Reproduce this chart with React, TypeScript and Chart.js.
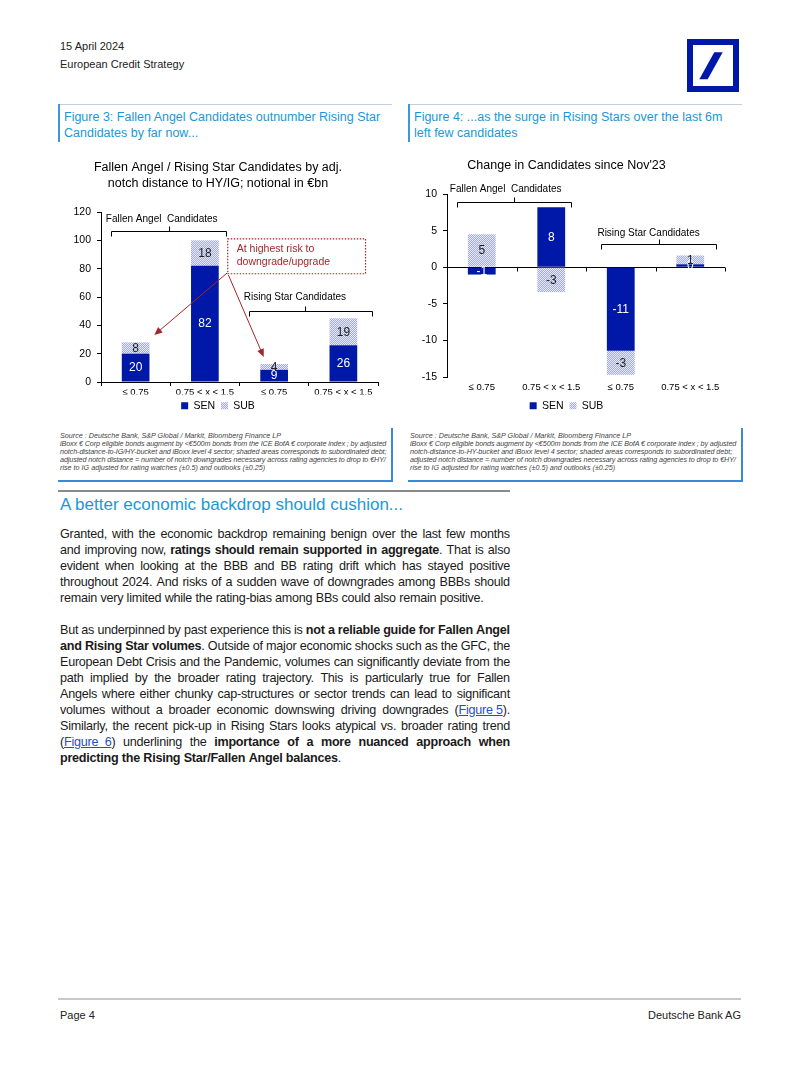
import React, { useEffect, useLayoutEffect, useRef } from 'react';
import { Chart, registerables } from 'chart.js';

Chart.register(...registerables);

const FONT = "'Liberation Sans', Arial, Helvetica, sans-serif";
const DB_BLUE = '#0018a8';
const ACCENT = '#1b97d6';
const RED = '#a3262b';

// ---------- data ----------
const categories = ['≤ 0.75', '0.75 < x < 1.5', '≤ 0.75', '0.75 < x < 1.5'];
const seriesNames = ['SEN', 'SUB'];
const fig3Sen = [20, 82, 8.6, 26];
const fig3Sub = [8, 18, 4.1, 19];
const fig4Sen = [-1, 8.2, -11.4, 0.4];
const fig4Sub = [4.5, -3.4, -3.3, 1.2];
const fig3YRange = [0, 120, 20];
const fig4YRange = [-15, 10, 5];
const fig3Title = ['Fallen Angel / Rising Star Candidates by adj.', 'notch distance to HY/IG; notional in €bn'];
const fig4Title = "Change in Candidates since Nov'23";

// annotation anchors (category index / value units)
const fig3Groups = [
  { text: 'Fallen Angel  Candidates', textX: -0.43, textY: 115, align: 'left', from: -0.35, to: 1.3, mid: 0.48, y: 106.6 },
  { text: 'Rising Star Candidates', textX: 2.3, textY: 60, align: 'center', from: 1.63, to: 3.41, mid: 2.44, y: 50 },
];
const fig4Groups = [
  { text: 'Fallen Angel  Candidates', textX: -0.46, textY: 10.66, align: 'left', from: -0.35, to: 1.29, mid: 0.47, y: 8.88 },
  { text: 'Rising Star Candidates', textX: 2.4, textY: 4.64, align: 'center', from: 1.71, to: 3.37, mid: 2.55, y: 3.14 },
];
const fig3CalloutLines = ['At highest risk to', 'downgrade/upgrade'];
const fig3CalloutBox = { x0: 1.33, x1: 3.32, y0: 101, y1: 76.4, textX: 1.46, textY: [93.9, 84.7] };
const fig3Arrows = [
  [1.32, 76.9, 0.27, 33.2],
  [1.34, 75.5, 1.85, 17.6],
];

const sourceLines3 = [
  'Source : Deutsche Bank, S&P Global / Markit, Bloomberg Finance LP',
  'iBoxx € Corp eligible bonds augment by <€500m bonds from the ICE BofA € corporate index ; by adjusted',
  'notch-distance-to-IG/HY-bucket and iBoxx level 4 sector; shaded areas corresponds to subordinated debt;',
  'adjusted notch distance = number of notch downgrades necessary across rating agencies to drop to €HY/',
  'rise to IG adjusted for rating watches (±0.5) and outlooks (±0.25)',
];
const sourceLines4 = [
  'Source : Deutsche Bank, S&P Global / Markit, Bloomberg Finance LP',
  'iBoxx € Corp eligible bonds augment by <€500m bonds from the ICE BofA € corporate index ; by adjusted',
  'notch-distance-to-HY-bucket and iBoxx level 4 sector; shaded areas corresponds to subordinated debt;',
  'adjusted notch distance = number of notch downgrades necessary across rating agencies to drop to €HY/',
  'rise to IG adjusted for rating watches (±0.5) and outlooks (±0.25)',
];

const para1 = [
  'Granted, with the economic backdrop remaining benign over the last few months',
  'and improving now, **ratings should remain supported in aggregate**. That is also',
  'evident when looking at the BBB and BB rating drift which has stayed positive',
  'throughout 2024. And risks of a sudden wave of downgrades among BBBs should',
  'remain very limited while the rating-bias among BBs could also remain positive.',
];
const para2 = [
  'But as underpinned by past experience this is **not a reliable guide for Fallen Angel**',
  '**and Rising Star volumes**. Outside of major economic shocks such as the GFC, the',
  'European Debt Crisis and the Pandemic, volumes can significantly deviate from the',
  'path implied by the broader rating trajectory. This is particularly true for Fallen',
  'Angels where either chunky cap-structures or sector trends can lead to significant',
  'volumes without a broader economic downswing driving downgrades ([Figure\u00a05]).',
  'Similarly, the recent pick-up in Rising Stars looks atypical vs. broader rating trend',
  '([Figure\u00a0\u00a06]) underlining the **importance of a more nuanced approach when**',
  '**predicting the Rising Star/Fallen Angel balances**.',
];

// ---------- helpers ----------
function makePattern(): any {
  const c = document.createElement('canvas');
  c.width = 4;
  c.height = 4;
  const g = c.getContext('2d');
  if (!g) return '#c5cbe8';
  g.fillStyle = '#e6e9f6';
  g.fillRect(0, 0, 4, 4);
  g.fillStyle = '#a3acdc';
  for (let y = 0; y < 4; y++) for (let x = 0; x < 4; x++) if ((x + y) % 2 === 0) g.fillRect(x, y, 1, 1);
  return g.createPattern(c, 'repeat') || '#c5cbe8';
}

const barLabels = {
  id: 'barLabels',
  afterDatasetsDraw(chart: any) {
    const ctx = chart.ctx;
    ctx.save();
    ctx.font = `12px ${FONT}`;
    ctx.textAlign = 'center';
    ctx.textBaseline = 'middle';
    chart.data.datasets.forEach((ds: any, di: number) => {
      const meta = chart.getDatasetMeta(di);
      meta.data.forEach((el: any, i: number) => {
        const v = ds.data[i];
        const y = (el.y + el.base) / 2;
        ctx.fillStyle = di === 0 ? '#ffffff' : '#222222';
        ctx.fillText(String(Math.round(v)), el.x, y + 0.5);
      });
    });
    ctx.restore();
  },
};

function drawArrow(ctx: any, x0: number, y0: number, x1: number, y1: number) {
  const a = Math.atan2(y1 - y0, x1 - x0);
  const L = 8;
  const W = 3.5;
  ctx.beginPath();
  ctx.moveTo(x0, y0);
  ctx.lineTo(x1 - L * 0.8 * Math.cos(a), y1 - L * 0.8 * Math.sin(a));
  ctx.stroke();
  ctx.beginPath();
  ctx.moveTo(x1, y1);
  ctx.lineTo(x1 - L * Math.cos(a) + W * Math.sin(a), y1 - L * Math.sin(a) - W * Math.cos(a));
  ctx.lineTo(x1 - L * Math.cos(a) - W * Math.sin(a), y1 - L * Math.sin(a) + W * Math.cos(a));
  ctx.closePath();
  ctx.fill();
}

function notesPlugin(groups: any[], withCallout: boolean, zeroTicks: boolean) {
  return {
    id: 'notes',
    afterDatasetsDraw(chart: any) {
      const { ctx } = chart;
      const xs = chart.scales.x;
      const ys = chart.scales.y;
      ctx.save();
      ctx.strokeStyle = '#000';
      ctx.fillStyle = '#000';
      ctx.lineWidth = 1;
      ctx.font = `10px ${FONT}`;
      ctx.textBaseline = 'middle';
      groups.forEach((g) => {
        ctx.textAlign = g.align;
        ctx.fillText(g.text, xs.getPixelForValue(g.textX), ys.getPixelForValue(g.textY));
        const x1 = Math.round(xs.getPixelForValue(g.from)) + 0.5;
        const x2 = Math.round(xs.getPixelForValue(g.to)) + 0.5;
        const xm = Math.round(xs.getPixelForValue(g.mid)) + 0.5;
        const yy = Math.round(ys.getPixelForValue(g.y)) + 0.5;
        ctx.beginPath();
        ctx.moveTo(x1, yy + 5);
        ctx.lineTo(x1, yy);
        ctx.lineTo(x2, yy);
        ctx.lineTo(x2, yy + 5);
        ctx.moveTo(xm, yy);
        ctx.lineTo(xm, yy - 5);
        ctx.stroke();
      });
      if (zeroTicks) {
        const y0 = Math.round(ys.getPixelForValue(0)) + 0.5;
        const n = chart.data.labels.length;
        ctx.beginPath();
        for (let i = 1; i <= n; i++) {
          const xx = Math.round(xs.getPixelForValue(i - 0.5)) + 0.5;
          ctx.moveTo(xx, y0);
          ctx.lineTo(xx, y0 + 4);
        }
        ctx.stroke();
      }
      if (withCallout) {
        const b = fig3CalloutBox;
        const bx0 = xs.getPixelForValue(b.x0);
        const bx1 = xs.getPixelForValue(b.x1);
        const by0 = ys.getPixelForValue(b.y0);
        const by1 = ys.getPixelForValue(b.y1);
        ctx.strokeStyle = RED;
        ctx.fillStyle = RED;
        ctx.lineWidth = 1.2;
        ctx.setLineDash([1.5, 1.5]);
        ctx.strokeRect(bx0, by0, bx1 - bx0, by1 - by0);
        ctx.setLineDash([]);
        ctx.font = `10.5px ${FONT}`;
        ctx.textAlign = 'left';
        fig3CalloutLines.forEach((t, i) => {
          ctx.fillText(t, xs.getPixelForValue(b.textX), ys.getPixelForValue(b.textY[i]));
        });
        ctx.lineWidth = 1;
        fig3Arrows.forEach((a) => {
          drawArrow(ctx, xs.getPixelForValue(a[0]), ys.getPixelForValue(a[1]), xs.getPixelForValue(a[2]), ys.getPixelForValue(a[3]));
        });
      }
      ctx.restore();
    },
  };
}

function makeConfig(which: 3 | 4): any {
  const pattern = makePattern();
  const is3 = which === 3;
  const sen = is3 ? fig3Sen : fig4Sen;
  const sub = is3 ? fig3Sub : fig4Sub;
  const yr = is3 ? fig3YRange : fig4YRange;
  return {
    type: 'bar',
    data: {
      labels: categories,
      datasets: [
        { label: seriesNames[0], data: sen, backgroundColor: DB_BLUE, borderWidth: 0, barPercentage: 0.4, categoryPercentage: 1 },
        { label: seriesNames[1], data: sub, backgroundColor: pattern, borderWidth: 0, barPercentage: 0.4, categoryPercentage: 1 },
      ],
    },
    options: {
      responsive: false,
      maintainAspectRatio: false,
      animation: false,
      layout: { padding: { left: 0, right: is3 ? 17 : 16, top: 0, bottom: 4 } },
      plugins: {
        title: {
          display: true,
          text: is3 ? fig3Title : fig4Title,
          color: '#000',
          font: { family: FONT, size: 12.5, weight: 'normal', lineHeight: 1.3 },
          padding: is3 ? { top: 14.5, bottom: 20 } : { top: 12.5, bottom: 20.3 },
        },
        legend: {
          position: 'bottom',
          labels: { boxWidth: 7, boxHeight: 7, color: '#000', padding: 6, font: { family: FONT, size: 10.5 } },
        },
        tooltip: { enabled: false },
      },
      scales: {
        x: {
          stacked: true,
          grid: is3
            ? { display: true, drawOnChartArea: false, drawTicks: true, tickLength: 4, offset: true, color: '#000' }
            : { display: false, drawTicks: false },
          border: is3 ? { display: true, color: '#000', width: 1 } : { display: false },
          ticks: { color: '#000', font: { family: FONT, size: 9.5 }, padding: is3 ? 1 : 5, maxRotation: 0, autoSkip: false },
          afterFit: (s: any) => {
            s.height = is3 ? 12.5 : 17.5;
          },
        },
        y: {
          stacked: true,
          min: yr[0],
          max: yr[1],
          ticks: { stepSize: yr[2], color: '#000', padding: 6, font: { family: FONT, size: 10.5 }, callback: (v: any) => String(v) },
          grid: is3
            ? { display: true, drawOnChartArea: false, drawTicks: true, tickLength: 4, color: '#000' }
            : {
                display: true,
                drawOnChartArea: true,
                drawTicks: true,
                tickLength: 4,
                tickColor: '#000',
                color: (c: any) => (c.tick && c.tick.value === 0 ? '#000' : 'rgba(0,0,0,0)'),
              },
          border: { display: true, color: '#000', width: 1 },
          afterFit: (s: any) => {
            s.width = is3 ? 43 : 39;
          },
        },
      },
    },
    plugins: [barLabels, notesPlugin(is3 ? fig3Groups : fig4Groups, is3, !is3)],
  };
}

function BarChart({ which, left, top, width, height }: { which: 3 | 4; left: number; top: number; width: number; height: number }) {
  const ref = useRef<HTMLCanvasElement | null>(null);
  useEffect(() => {
    if (!ref.current) return;
    const chart = new Chart(ref.current, makeConfig(which));
    return () => chart.destroy();
  }, [which]);
  return (
    <canvas
      ref={ref}
      width={width}
      height={height}
      style={{ position: 'absolute', left, top, width, height, display: 'block' }}
    />
  );
}

type Seg = { t: string; b: boolean; l: boolean };
function parseWords(text: string): Seg[][] {
  const words: Seg[][] = [[]];
  let bold = false;
  let link = false;
  let buf = '';
  const flush = () => {
    if (buf) {
      words[words.length - 1].push({ t: buf, b: bold, l: link });
      buf = '';
    }
  };
  for (let i = 0; i < text.length; i++) {
    const ch = text[i];
    if (ch === '*' && text[i + 1] === '*') {
      flush();
      bold = !bold;
      i++;
      continue;
    }
    if (ch === '[') {
      flush();
      link = true;
      continue;
    }
    if (ch === ']') {
      flush();
      link = false;
      continue;
    }
    if (ch === ' ') {
      flush();
      words.push([]);
      continue;
    }
    buf += ch;
  }
  flush();
  return words.filter((w) => w.length > 0);
}

function TextLine({ text, top, last }: { text: string; top: number; last: boolean }) {
  const words = parseWords(text);
  return (
    <div
      data-fit="1"
      style={{
        position: 'absolute',
        left: 60,
        top,
        width: 450,
        height: 16,
        lineHeight: '16px',
        fontSize: 12.6,
        letterSpacing: '-0.25px',
        display: 'flex',
        justifyContent: last ? 'flex-start' : 'space-between',
        whiteSpace: 'nowrap',
        color: '#1a1a1a',
      }}
    >
      {words.map((w, i) => (
        <span key={i} style={{ marginRight: last ? '0.27em' : 0 }}>
          {w.map((s, j) =>
            s.l ? (
              <span key={j} style={{ color: '#1f4fc0', textDecoration: 'underline', fontWeight: s.b ? 'bold' : 'normal' }}>
                {s.t}
              </span>
            ) : (
              <span key={j} style={{ fontWeight: s.b ? 'bold' : 'normal' }}>
                {s.t}
              </span>
            )
          )}
        </span>
      ))}
    </div>
  );
}

function Source({ lines, left }: { lines: string[]; left: number }) {
  return (
    <div style={{ position: 'absolute', left, top: 432, width: 326 }}>
      {lines.map((t, i) => (
        <div
          key={i}
          data-fit="1"
          style={{ width: 326, height: 8, lineHeight: '8px', fontSize: 7.2, fontStyle: 'italic', color: '#444', whiteSpace: 'nowrap', overflow: 'visible' }}
        >
          {t}
        </div>
      ))}
    </div>
  );
}

const abs = (left: number, top: number, extra: any = {}) => ({ position: 'absolute' as const, left, top, ...extra });

export default function App() {
  useLayoutEffect(() => {
    document.querySelectorAll('[data-fit]').forEach((node) => {
      const el = node as HTMLElement;
      let ls = parseFloat(el.style.letterSpacing || '0') || 0;
      let guard = 0;
      while (el.scrollWidth > el.clientWidth + 0.5 && guard < 20) {
        ls -= 0.05;
        el.style.letterSpacing = ls + 'px';
        guard++;
      }
    });
  }, []);

  return (
    <div
      style={{
        position: 'absolute',
        left: 0,
        top: 0,
        width: 802,
        height: 1068,
        background: '#fff',
        fontFamily: FONT,
        overflow: 'hidden',
      }}
    >
      {/* header */}
      <div style={abs(60, 39, { fontSize: 11, lineHeight: '14px', color: '#222' })}>15 April 2024</div>
      <div style={abs(60, 57, { fontSize: 11, lineHeight: '14px', color: '#222' })}>European Credit Strategy</div>
      <div style={abs(687, 39, { width: 52, height: 53, border: `6px solid ${DB_BLUE}`, boxSizing: 'border-box' })} />
      <svg style={abs(687, 39)} width={52} height={53}>
        <polygon points="27.3,13.3 35.7,13.3 20.7,40.3 12.3,40.3" fill={DB_BLUE} />
      </svg>

      {/* figure titles */}
      <div style={abs(58, 104, { width: 334, height: 1, background: '#c3cfdb' })} />
      <div style={abs(58, 104, { width: 2, height: 38, background: '#3a9ad9' })} />
      <div style={abs(64, 109, { fontSize: 12.5, lineHeight: '16px', color: ACCENT, whiteSpace: 'nowrap' })}>
        Figure 3: Fallen Angel Candidates outnumber Rising Star
        <br />
        Candidates by far now...
      </div>
      <div style={abs(408, 104, { width: 334, height: 1, background: '#c3cfdb' })} />
      <div style={abs(408, 104, { width: 2, height: 38, background: '#3a9ad9' })} />
      <div style={abs(414, 109, { fontSize: 12.5, lineHeight: '16px', color: ACCENT, whiteSpace: 'nowrap' })}>
        Figure 4: ...as the surge in Rising Stars over the last 6m
        <br />
        left few candidates
      </div>

      {/* charts */}
      <BarChart which={3} left={58} top={145} width={337} height={280} />
      <BarChart which={4} left={408} top={145} width={333} height={280} />

      {/* sources */}
      <Source lines={sourceLines3} left={60} />
      <Source lines={sourceLines4} left={410} />
      <div style={abs(391, 428, { width: 1.5, height: 53, background: '#3a8ad6' })} />
      <div style={abs(58, 480, { width: 334.5, height: 1.5, background: '#3a8ad6' })} />
      <div style={abs(741, 428, { width: 1.5, height: 53, background: '#3a8ad6' })} />
      <div style={abs(408, 480, { width: 334.5, height: 1.5, background: '#3a8ad6' })} />

      {/* section heading */}
      <div style={abs(58, 490, { width: 452, height: 1.5, background: '#8a8a8a' })} />
      <div style={abs(60, 495, { fontSize: 17, lineHeight: '20px', color: ACCENT, whiteSpace: 'nowrap' })}>
        A better economic backdrop should cushion...
      </div>

      {/* body */}
      {para1.map((t, i) => (
        <TextLine key={'a' + i} text={t} top={526 + 16 * i} last={i === para1.length - 1} />
      ))}
      {para2.map((t, i) => (
        <TextLine key={'b' + i} text={t} top={622 + 16 * i} last={i === para2.length - 1} />
      ))}

      {/* footer */}
      <div style={abs(58, 998, { width: 683, height: 2, background: '#c8c8c8' })} />
      <div style={abs(60, 1008, { fontSize: 11, lineHeight: '14px', color: '#222' })}>Page 4</div>
      <div style={abs(541, 1008, { width: 200, textAlign: 'right', fontSize: 11, lineHeight: '14px', color: '#222' })}>
        Deutsche Bank AG
      </div>
    </div>
  );
}
